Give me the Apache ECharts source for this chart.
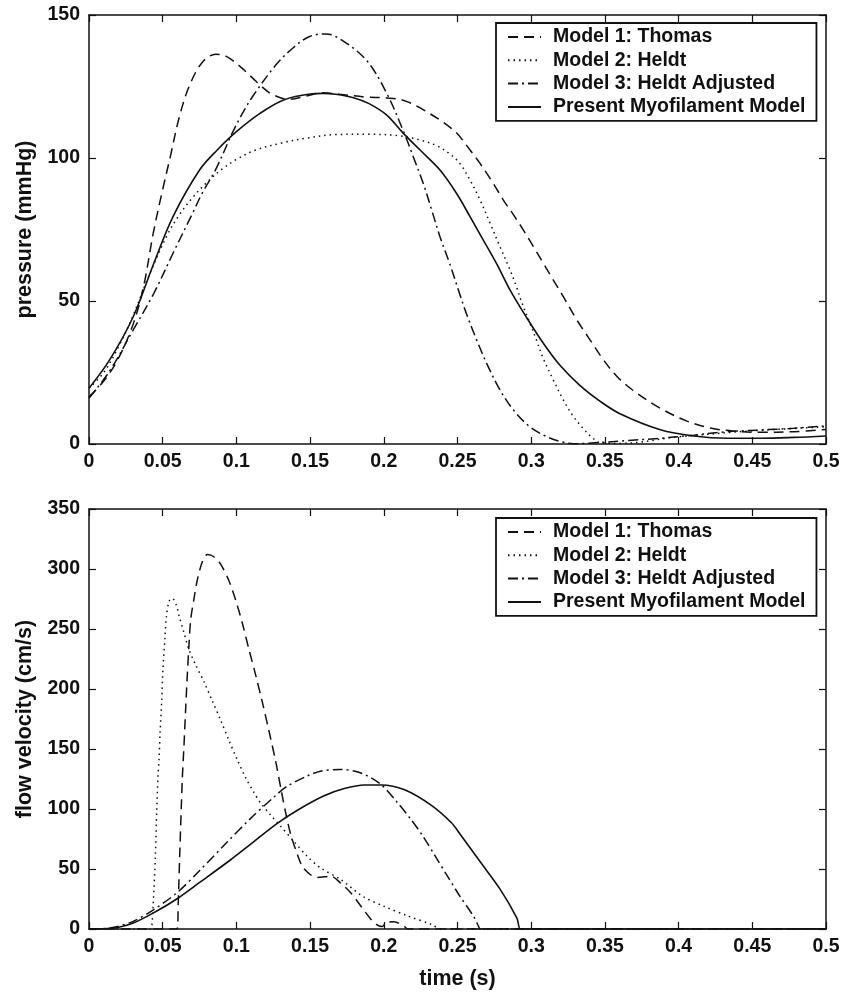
<!DOCTYPE html>
<html>
<head>
<meta charset="utf-8">
<script src="https://cdn.jsdelivr.net/npm/echarts@6/dist/echarts.min.js"></script>
<style>
  html, body { margin: 0; padding: 0; background: #fff; }
  #chart { width: 842px; height: 1005px; }
</style>
</head>
<body>
<div id="chart"></div>
<script>
// names shown in the legends
const modelNames = ['Model 1: Thomas', 'Model 2: Heldt', 'Model 3: Heldt Adjusted', 'Present Myofilament Model'];

// [min, max, interval] of the axes
const timeTicks = [0, 0.5, 0.05];
const pressureTicks = [0, 150, 50];
const flowTicks = [0, 350, 50];

// pressure (mmHg) vs time (s)
const pressThomas = [[0,16.5],[0.01,22],[0.02,30],[0.03,42],[0.037,55],[0.0437,74],[0.05,89],[0.0554,101],[0.0611,114],[0.0679,125],[0.0769,133.5],[0.086,136.3],[0.0928,135.6],[0.1018,132.3],[0.1109,128],[0.1176,124.8],[0.1244,122.2],[0.1357,120.5],[0.147,121.6],[0.1584,122.8],[0.17,122.3],[0.188,121.3],[0.202,121],[0.213,120.2],[0.2247,117.5],[0.2472,109.8],[0.2585,102.8],[0.2653,98.1],[0.2743,91.1],[0.2811,85.3],[0.2879,80.2],[0.2947,74.8],[0.3015,69],[0.3082,63.2],[0.315,57.3],[0.3218,51.5],[0.3308,43.5],[0.3398,36.5],[0.3489,29.5],[0.358,23.7],[0.3695,18.6],[0.3876,12.5],[0.4057,8],[0.4216,5.6],[0.4374,4.5],[0.4556,4.1],[0.4782,4.3],[0.5,5.1]];
const pressHeldt = [[0,19.5],[0.01,25],[0.02,34],[0.03,45],[0.04,58],[0.053,73],[0.0611,80],[0.07,86],[0.08,91.5],[0.09,96],[0.1,99.5],[0.1131,102.8],[0.1312,105.3],[0.147,106.9],[0.1674,108.2],[0.19,108.3],[0.21,107.8],[0.2246,106.3],[0.2359,104.3],[0.2449,101.4],[0.2517,98],[0.2585,92.3],[0.2653,85.3],[0.2721,77.2],[0.2788,69],[0.2856,60.9],[0.29,55],[0.2934,49.8],[0.2991,42.3],[0.3036,36.3],[0.3081,30],[0.3149,22.5],[0.3217,15.5],[0.3285,9.7],[0.3353,5.4],[0.341,2.4],[0.3466,0.5],[0.36,0.2],[0.4,2.5],[0.45,4.6],[0.5,6]];
const pressAdjusted = [[0,16],[0.014,25.5],[0.03,39.9],[0.044,52.7],[0.057,66.7],[0.0701,80.5],[0.0769,87.8],[0.086,96],[0.097,108.5],[0.104,115.5],[0.111,121.5],[0.1267,132.5],[0.138,138.3],[0.1493,142.4],[0.1606,143.4],[0.1697,141.8],[0.188,134.3],[0.202,122.6],[0.2144,108],[0.22,100.4],[0.2268,91.1],[0.2325,81.8],[0.2381,72.5],[0.2449,62.8],[0.2505,54],[0.2561,45.5],[0.2629,36.5],[0.2697,28.3],[0.2787,19],[0.2878,12],[0.2991,6],[0.3104,2.6],[0.3195,0.9],[0.3285,0.1],[0.349,0.6],[0.365,1.2],[0.3876,2],[0.4103,3.1],[0.433,4.3],[0.4556,4.9],[0.4782,5.5],[0.5,6.3]];
const pressPresent = [[0,19.5],[0.014,29.4],[0.03,44.5],[0.044,63.2],[0.057,79.5],[0.075,95.8],[0.087,102.8],[0.1,109.2],[0.116,115.6],[0.132,120.3],[0.15,122.4],[0.159,122.6],[0.1674,122.3],[0.18,121],[0.19,119],[0.202,115],[0.2133,108.6],[0.2246,102.8],[0.2381,95.8],[0.2494,87.6],[0.2585,79.5],[0.2675,71.3],[0.2766,63],[0.2855,54],[0.2968,44.3],[0.3081,35.3],[0.3195,27.5],[0.333,20.5],[0.3466,15],[0.3602,10.6],[0.3876,5],[0.4103,2.8],[0.433,2],[0.4556,2],[0.4782,2.3],[0.5,2.8]];

// flow velocity (cm/s) vs time (s)
const flowThomas = [[0,0],[0.057,0],[0.0598,0],[0.0605,20],[0.0615,60],[0.0633,125],[0.0644,152],[0.0656,184],[0.0667,212],[0.0678,236],[0.069,258],[0.0712,275],[0.0735,291],[0.0769,306],[0.0803,312],[0.085,310],[0.0893,304],[0.095,290],[0.0995,274],[0.104,255],[0.1085,233],[0.113,212],[0.1176,189],[0.1221,165],[0.1266,140],[0.1305,115],[0.1334,97],[0.1368,79],[0.1414,62],[0.1448,52],[0.1505,45],[0.155,43],[0.164,44],[0.171,38],[0.1777,30],[0.1845,19],[0.1914,8],[0.196,3],[0.199,2],[0.2015,5.5],[0.207,6],[0.2141,2],[0.216,0],[0.219,0],[0.5,0]];
const flowHeldt = [[0,0],[0.04,0],[0.042,0],[0.0435,20],[0.045,60],[0.046,100],[0.0468,127],[0.0475,141],[0.0482,163],[0.0493,190],[0.0502,217],[0.0516,244],[0.0525,260],[0.0543,273],[0.0565,275.5],[0.0592,270],[0.0611,261],[0.0644,247],[0.0678,233],[0.0724,220],[0.078,206],[0.0837,190],[0.0893,174],[0.095,157],[0.1006,141],[0.1063,126],[0.1118,114],[0.1164,105],[0.1232,95],[0.13,85.6],[0.139,73],[0.148,60.6],[0.157,51],[0.171,41],[0.186,27],[0.2,19],[0.216,11],[0.232,4],[0.239,0],[0.242,0],[0.5,0]];
const flowAdjusted = [[0,0],[0.0143,0.8],[0.03,6.4],[0.0437,16],[0.0595,30],[0.0753,49],[0.0934,72],[0.1095,92],[0.1255,110],[0.1345,119],[0.148,127.5],[0.157,131.5],[0.17,133],[0.1845,130],[0.1982,120.3],[0.2095,105],[0.2186,91],[0.2262,78],[0.235,60.5],[0.2432,44],[0.2518,27],[0.2609,10.6],[0.2643,2.2],[0.2654,0],[0.268,0],[0.5,0]];
const flowPresent = [[0,0],[0.015,0.5],[0.03,5],[0.046,15],[0.0595,25],[0.0753,39],[0.0959,57.5],[0.1095,70.5],[0.1277,88],[0.1414,99],[0.1595,111],[0.1732,117],[0.1868,120],[0.1982,120],[0.2141,116],[0.2323,103],[0.2459,88.5],[0.2518,79],[0.2654,56],[0.279,33],[0.2903,9],[0.2925,0],[0.295,0],[0.5,0]];

const ink = '#111';
const labelFont = { color: ink, fontSize: 19.5, fontWeight: 'bold', fontFamily: 'Liberation Sans, Arial, sans-serif' };
const nameFont = { color: ink, fontSize: 21.5, fontWeight: 'bold', fontFamily: 'Liberation Sans, Arial, sans-serif' };

const styles = [
  { type: [10, 6], width: 1.5 },
  { type: [1.5, 4], width: 1.5 },
  { type: [10, 4, 2, 4], width: 1.5 },
  { type: 'solid', width: 1.6 }
];

function frameAxis(gridIndex, position, range, main, name, nameGap) {
  const isX = position === 'bottom' || position === 'top';
  return {
    type: 'value',
    gridIndex: gridIndex,
    position: position,
    min: range[0], max: range[1], interval: range[2],
    name: main ? name : '',
    nameLocation: 'middle',
    nameGap: nameGap,
    nameTextStyle: nameFont,
    axisLine: { show: true, onZero: false, lineStyle: { color: ink, width: 1.5 } },
    axisTick: { show: true, inside: true, length: 7, lineStyle: { color: ink, width: 1.2 } },
    axisLabel: Object.assign({ show: main, margin: isX ? 8 : 9 }, labelFont),
    splitLine: { show: false }
  };
}

function makeSeries(datas, gridIdx, smoothing) {
  return datas.map((d, i) => ({
    name: modelNames[i],
    type: 'line',
    xAxisIndex: gridIdx * 2,
    yAxisIndex: gridIdx * 2,
    data: d,
    symbol: 'none',
    smooth: smoothing,
    lineStyle: { color: ink, type: styles[i].type, width: styles[i].width },
    itemStyle: { color: ink },
    animation: false,
    z: 2 + i
  }));
}

function makeLegend(top) {
  return {
    data: modelNames,
    orient: 'vertical',
    left: 496,
    top: top,
    padding: [4, 11, 4, 11],
    itemGap: 3.3,
    itemWidth: 33,
    itemHeight: 14,
    backgroundColor: '#fff',
    borderColor: ink,
    borderWidth: 1.8,
    borderRadius: 0,
    selectedMode: false,
    itemStyle: { opacity: 0 },
    textStyle: Object.assign({ lineHeight: 20, padding: [0, 0, 0, 7] }, labelFont)
  };
}

const chart = echarts.init(document.getElementById('chart'), null, { renderer: 'canvas' });
chart.setOption({
  backgroundColor: '#fff',
  animation: false,
  grid: [
    { left: 89, top: 15, width: 737, height: 429, outerBoundsMode: 'none', containLabel: false },
    { left: 89, top: 509, width: 737, height: 420, outerBoundsMode: 'none', containLabel: false }
  ],
  legend: [makeLegend(23), makeLegend(518)],
  xAxis: [
    frameAxis(0, 'bottom', timeTicks, true, '', 30),
    frameAxis(0, 'top', timeTicks, false, '', 30),
    frameAxis(1, 'bottom', timeTicks, true, 'time (s)', 39),
    frameAxis(1, 'top', timeTicks, false, '', 30)
  ],
  yAxis: [
    frameAxis(0, 'left', pressureTicks, true, 'pressure (mmHg)', 52),
    frameAxis(0, 'right', pressureTicks, false, '', 30),
    frameAxis(1, 'left', flowTicks, true, 'flow velocity (cm/s)', 52),
    frameAxis(1, 'right', flowTicks, false, '', 30)
  ],
  series: makeSeries([pressThomas, pressHeldt, pressAdjusted, pressPresent], 0, 0.35)
    .concat(makeSeries([flowThomas, flowHeldt, flowAdjusted, flowPresent], 1, 0.3))
});
</script>
</body>
</html>
